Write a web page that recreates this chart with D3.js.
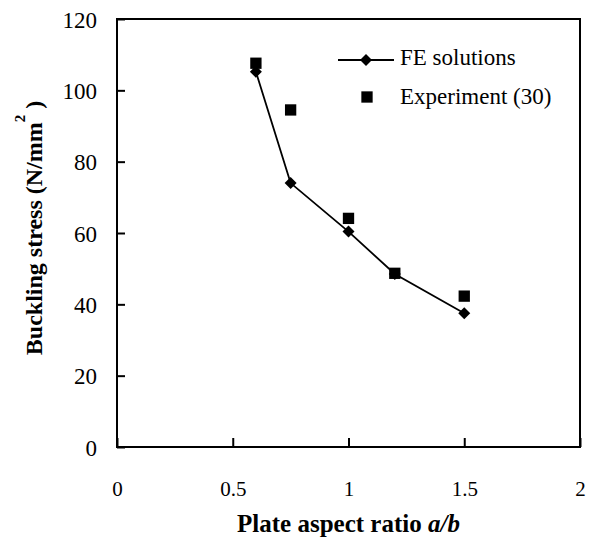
<!DOCTYPE html>
<html><head><meta charset="utf-8">
<script src="https://cdn.jsdelivr.net/npm/d3@7"></script>
<style>body{margin:0;background:#fff}svg{display:block}</style>
</head><body>
<script>
const aspectRatios = [0.6, 0.75, 1.0, 1.2, 1.5];
const feSolutions = [105.2, 74.0, 60.4, 48.5, 37.5];
const experiment = [107.6, 94.5, 64.1, 48.7, 42.3];
const xTicks = [0, 0.5, 1, 1.5, 2];
const yTicks = [0, 20, 40, 60, 80, 100, 120];

const W = 590, H = 552;
const m = {left:117, right:10, top:19, bottom:105};
const svg = d3.select("body").append("svg").attr("width", W).attr("height", H);
const font = "'Liberation Serif','Times New Roman',serif";

const x = d3.scaleLinear().domain([0, 2]).range([m.left, W - m.right]);
const y = d3.scaleLinear().domain([0, 120]).range([H - m.bottom, m.top]);

// frame
svg.append("rect").attr("x", x(0)).attr("y", y(120)).attr("width", x(2)-x(0)).attr("height", y(0)-y(120))
  .attr("fill","none").attr("stroke","#000").attr("stroke-width",2);

// axes with inward ticks
const xAxis = svg.append("g").attr("transform",`translate(0,${y(0)})`)
  .call(d3.axisBottom(x).tickValues(xTicks).tickSize(-9).tickPadding(0).tickFormat(d3.format("")));
xAxis.select(".domain").remove();
xAxis.selectAll("line").attr("stroke-width",2);
xAxis.selectAll("text").attr("y", 49).attr("dy", 0).style("font-family", font).style("font-size","21px").attr("fill","#000");

const yAxis = svg.append("g").attr("transform",`translate(${x(0)},0)`)
  .call(d3.axisLeft(y).tickValues(yTicks).tickSize(-8).tickFormat(d3.format("")));
yAxis.select(".domain").remove();
yAxis.selectAll("line").attr("stroke-width",2);
yAxis.selectAll("text").attr("x", -20).attr("dy","0.36em").style("font-family", font).style("font-size","23px").attr("fill","#000");

// FE line
const pts = aspectRatios.map((a,i)=>[a, feSolutions[i]]);
svg.append("path").datum(pts)
  .attr("d", d3.line().x(d=>x(d[0])).y(d=>y(d[1])))
  .attr("fill","none").attr("stroke","#000").attr("stroke-width",1.8);

const diamond = d3.symbol().type(d3.symbolDiamond2).size(92);
const square = d3.symbol().type(d3.symbolSquare).size(128);

// experiment squares
svg.selectAll(".exp").data(aspectRatios.map((a,i)=>[a, experiment[i]])).join("path")
  .attr("class","exp").attr("d", square).attr("transform", d=>`translate(${x(d[0])},${y(d[1])})`).attr("fill","#000");

// FE diamonds
svg.selectAll(".fe").data(pts).join("path")
  .attr("class","fe").attr("d", diamond).attr("transform", d=>`translate(${x(d[0])},${y(d[1])})`).attr("fill","#000");

// legend
const lg = svg.append("g");
lg.append("line").attr("x1",338).attr("x2",394).attr("y1",60).attr("y2",60).attr("stroke","#000").attr("stroke-width",1.8);
lg.append("path").attr("d", diamond).attr("transform","translate(366,60)").attr("fill","#000");
lg.append("text").attr("x",400).attr("y",65).text("FE solutions")
  .style("font-family",font).style("font-size","23px");
lg.append("path").attr("d", square).attr("transform","translate(367,97)").attr("fill","#000");
lg.append("text").attr("x",400).attr("y",104).text("Experiment (30)")
  .style("font-family",font).style("font-size","23px");

// axis titles
const xt = svg.append("text").attr("x",(x(0)+x(2))/2).attr("y",532).attr("text-anchor","middle")
  .style("font-family",font).style("font-size","25px").style("font-weight","bold");
xt.append("tspan").text("Plate aspect ratio ");
xt.append("tspan").style("font-style","italic").text("a/b");

const yt = svg.append("text").attr("transform","translate(42,228) rotate(-90)").attr("text-anchor","middle")
  .style("font-family",font).style("font-size","24px").style("font-weight","bold");
yt.append("tspan").text("Buckling stress (N/mm");
yt.append("tspan").attr("dy",-17).style("font-size","15px").text("2");
yt.append("tspan").attr("dy",17).text(" )");
</script>
</body></html>
